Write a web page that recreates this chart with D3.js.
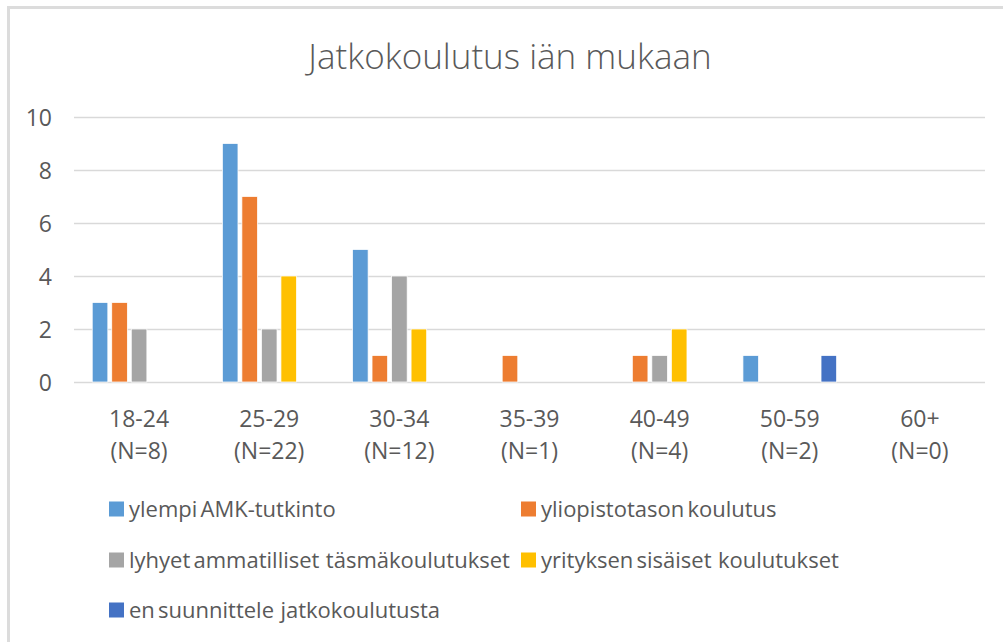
<!DOCTYPE html>
<html>
<head>
<meta charset="utf-8">
<script src="https://cdn.jsdelivr.net/npm/d3@7"></script>
<style>
  body { margin: 0; background: #fff; }
  svg text { font-family: "Open Sans", Lato, sans-serif; fill: #595959; }
</style>
</head>
<body>
<svg width="1003" height="642"></svg>
<script>
const ageGroups = ['18-24', '25-29', '30-34', '35-39', '40-49', '50-59', '60+']
const groupN = ['(N=8)', '(N=22)', '(N=12)', '(N=1)', '(N=4)', '(N=2)', '(N=0)']
const seriesNames = [
  'ylempi AMK-tutkinto',
  'yliopistotason koulutus',
  'lyhyet ammatilliset  täsmäkoulutukset',
  'yrityksen sisäiset  koulutukset',
  'en suunnittele  jatkokoulutusta'
]
const seriesColors = ['#5B9BD5', '#ED7D31', '#A5A5A5', '#FFC000', '#4472C4']
const ylempiAMK = [3, 9, 5, 0, 0, 1, 0]
const yliopisto = [3, 7, 1, 1, 1, 0, 0]
const lyhyet = [2, 2, 4, 0, 1, 0, 0]
const yritys = [0, 4, 2, 0, 2, 0, 0]
const eiJatko = [0, 0, 0, 0, 0, 1, 0]
const yTicks = [0, 2, 4, 6, 8, 10]

const series = [ylempiAMK, yliopisto, lyhyet, yritys, eiJatko]
const data = ageGroups.map((g, i) => ({
  group: g,
  values: series.map((s, j) => ({key: j, value: s[i]}))
}))

const svg = d3.select('svg')

// frame
svg.append('path')
  .attr('d', 'M8.5,642 V7.5 H1003')
  .attr('fill', 'none')
  .attr('stroke', '#dcdcdc')
  .attr('stroke-width', 3)

svg.append('text')
  .attr('x', 510)
  .attr('y', 69)
  .attr('text-anchor', 'middle')
  .style('font-size', '35px')
  .style('font-weight', 300)
  .text('Jatkokoulutus iän mukaan')

const plot = {left: 74, right: 985, top: 117, bottom: 382}

const x0 = d3.scaleBand().domain(ageGroups).range([plot.left, plot.right])
  .paddingInner(0.25).paddingOuter(0.125)
const x1 = d3.scaleBand().domain(d3.range(seriesNames.length)).range([0, x0.bandwidth()])
  .paddingInner(0.2).paddingOuter(0.1)
const y = d3.scaleLinear().domain([0, 10]).range([plot.bottom, plot.top])

// gridlines
svg.append('g')
  .selectAll('line').data(yTicks).join('line')
  .attr('x1', plot.left).attr('x2', plot.right)
  .attr('y1', d => Math.round(y(d)) + 0.5).attr('y2', d => Math.round(y(d)) + 0.5)
  .attr('stroke', '#d9d9d9')
  .attr('stroke-width', 1.5)

// y labels
svg.append('g')
  .selectAll('text').data(yTicks).join('text')
  .attr('x', 52)
  .attr('y', d => y(d) + 8.5)
  .attr('text-anchor', 'end')
  .style('font-size', '23px')
  .text(d => d)

// bars
const groups = svg.append('g')
  .selectAll('g').data(data).join('g')
  .attr('transform', d => `translate(${x0(d.group)},0)`)

groups.selectAll('rect').data(d => d.values.filter(v => v.value > 0)).join('rect')
  .attr('x', d => x1(d.key))
  .attr('width', x1.bandwidth())
  .attr('y', d => y(d.value))
  .attr('height', d => y(0) - y(d.value))
  .attr('fill', d => seriesColors[d.key])
  .attr('stroke', '#fff')
  .attr('stroke-width', 0.75)

// category labels
const catLabels = svg.append('g')
  .selectAll('text').data(ageGroups).join('text')
  .attr('text-anchor', 'middle')
  .style('font-size', '23px')
catLabels.append('tspan').attr('y', 427).attr('x', d => x0(d) + x0.bandwidth() / 2).text(d => d)
catLabels.append('tspan').attr('y', 459).attr('x', d => x0(d) + x0.bandwidth() / 2)
  .text((d, i) => groupN[i])

// legend
const legendPos = [[109, 509], [521, 509], [109, 560], [521, 560], [109, 610]]
const legend = svg.append('g')
  .selectAll('g').data(seriesNames).join('g')
  .attr('transform', (d, i) => `translate(${legendPos[i][0]},${legendPos[i][1]})`)
legend.append('rect')
  .attr('x', 0).attr('y', -7.5)
  .attr('width', 15).attr('height', 15)
  .attr('fill', (d, i) => seriesColors[i])
legend.append('text')
  .attr('x', 20).attr('y', 7.5)
  .style('font-size', '22px')
  .style('white-space', 'pre')
  .style('word-spacing', '-2.5px')
  .text(d => d)
</script>
</body>
</html>
